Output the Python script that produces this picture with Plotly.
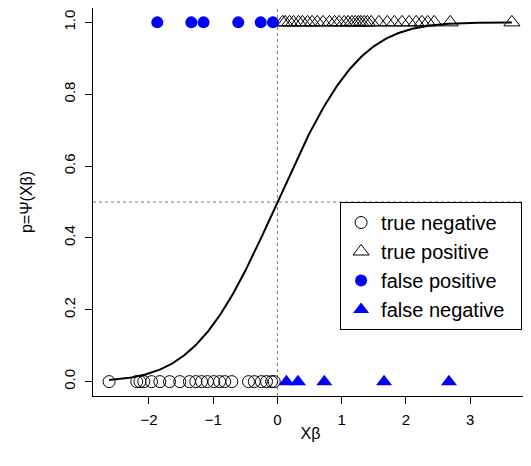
import math
import numpy as np
import plotly.graph_objects as go

# Data
true_neg_x = [-2.62, -2.19, -2.14, -2.08, -1.96, -1.83, -1.68, -1.52, -1.37, -1.27, -1.18,
              -1.09, -0.99, -0.90, -0.82, -0.71, -0.45, -0.36, -0.25, -0.17, -0.09, -0.05]
true_pos_x = [0.08, 0.12, 0.19, 0.25, 0.33, 0.39, 0.47, 0.54, 0.62, 0.71, 0.81, 0.89, 0.96,
              1.04, 1.10, 1.16, 1.21, 1.26, 1.30, 1.35, 1.40, 1.46, 1.58, 1.71, 1.82, 1.94,
              2.05, 2.16, 2.25, 2.34, 2.44, 2.69, 3.65]
false_pos_x = [-1.87, -1.34, -1.15, -0.61, -0.26, -0.07]
false_neg_x = [0.14, 0.32, 0.73, 1.66, 2.67]

x_ticks = [-2, -1, 0, 1, 2, 3]
x_tick_labels = ["\u22122", "\u22121", "0", "1", "2", "3"]
y_ticks = [0.0, 0.2, 0.4, 0.6, 0.8, 1.0]
y_tick_labels = ["0.0", "0.2", "0.4", "0.6", "0.8", "1.0"]

all_x = true_neg_x + true_pos_x + false_pos_x + false_neg_x
xmin, xmax = min(all_x), max(all_x)
curve_x = np.linspace(xmin, xmax, 300)
# link function Psi (normal CDF)
curve_y = [0.5 * (1.0 + math.erf(v / math.sqrt(2.0))) for v in curve_x]

font = "Liberation Sans, Arial, sans-serif"
pad = "\u00a0\u00a0"

fig = go.Figure()
fig.add_trace(go.Scatter(x=true_neg_x, y=[0] * len(true_neg_x), mode="markers",
                         name="true negative" + pad,
                         marker=dict(symbol="circle-open", size=12, color="black",
                                     line=dict(width=1, color="black"))))
fig.add_trace(go.Scatter(x=true_pos_x, y=[1] * len(true_pos_x), mode="markers",
                         name="true positive" + pad,
                         marker=dict(symbol="triangle-up-open", size=14, color="black",
                                     line=dict(width=1, color="black"))))
fig.add_trace(go.Scatter(x=false_pos_x, y=[1] * len(false_pos_x), mode="markers",
                         name="false positive" + pad,
                         marker=dict(symbol="circle", size=12, color="#0000ff",
                                     line=dict(width=0))))
fig.add_trace(go.Scatter(x=false_neg_x, y=[0] * len(false_neg_x), mode="markers",
                         name="false negative" + pad,
                         marker=dict(symbol="triangle-up", size=14, color="#0000ff",
                                     line=dict(width=0))))
fig.add_trace(go.Scatter(x=curve_x, y=curve_y, mode="lines", showlegend=False,
                         line=dict(color="black", width=2)))

xr = [xmin - 0.04 * (xmax - xmin), xmax + 0.04 * (xmax - xmin)]
yr = [-0.04, 1.04]

fig.add_shape(type="line", xref="x", yref="paper", x0=0, x1=0, y0=0, y1=1,
              line=dict(color="#777777", width=1, dash="dot"), layer="below")
fig.add_shape(type="line", xref="paper", yref="y", x0=0, x1=1, y0=0.5, y1=0.5,
              line=dict(color="#777777", width=1, dash="dot"), layer="below")

fig.update_layout(
    width=523, height=458,
    margin=dict(l=85, r=3, t=0, b=70, autoexpand=False),
    paper_bgcolor="white", plot_bgcolor="white",
    font=dict(family=font, size=15, color="black"),
    showlegend=True,
    legend=dict(x=0.568, y=0.5, xanchor="left", yanchor="top",
                bgcolor="white", bordercolor="black", borderwidth=1,
                font=dict(size=20, family=font), tracegroupgap=0,
                itemwidth=30),
    xaxis=dict(range=xr, tickvals=x_ticks, ticktext=x_tick_labels,
               showgrid=False, zeroline=False, showline=True, mirror=True,
               linecolor="black", linewidth=1, ticks="outside", ticklen=7,
               tickcolor="black", tickfont=dict(size=15), automargin=False,
               ticklabelstandoff=3,
               title=dict(text="X\u03b2", font=dict(size=16), standoff=0)),
    yaxis=dict(range=yr, tickvals=y_ticks, ticktext=y_tick_labels,
               showgrid=False, zeroline=False, showline=True, mirror=True,
               linecolor="black", linewidth=1, ticks="outside", ticklen=7,
               tickcolor="black", tickangle=-90, tickfont=dict(size=15),
               automargin=False, ticklabelstandoff=4,
               title=dict(text="p=\u03a8(X\u03b2)", font=dict(size=16), standoff=24)),
)

fig.write_html("out.html")
